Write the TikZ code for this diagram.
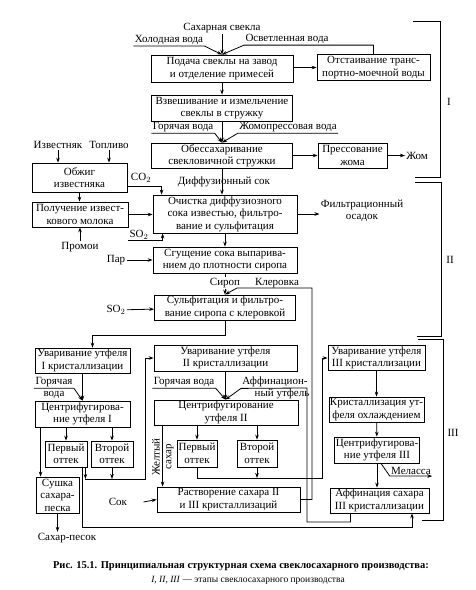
\documentclass[tikz,border=0pt]{standalone}
\usepackage{fontspec}
\setmainfont{Liberation Serif}
\usetikzlibrary{arrows.meta,positioning,calc}

\begin{document}
\begin{tikzpicture}[x=1pt,y=-1pt,
    font=\fontsize{11}{12.5}\selectfont,
    line width=0.8pt,
    >={Stealth[length=5pt,width=3.6pt]},
    blok/.style 2 args={draw, align=center, inner sep=1pt,
      minimum width=#1, minimum height=#2},
    lbl/.style={inner sep=1pt}
  ]
    \useasboundingbox (0,0) rectangle (476,590);

    % stage I
    \node[lbl] (svekla) at (222,28) {Сахарная свекла};
    \node[lbl] (xolod) at (169,40) {Холодная вода};
    \node[lbl] (osvet) at (287,39) {Осветленная вода};
    \node[blok={142}{27}] (podacha) at (222,68.5) {Подача свеклы на завод\\и отделение примесей};
    \node[blok={113}{26}] (otstoi) at (373.5,67.5) {Отстаивание транс-\\портно-моечной воды};
    \node[blok={141}{26}] (vzvesh) at (222,108) {Взвешивание и измельчение\\свеклы в стружку};
    \node[lbl] (gorv) at (183,127) {Горячая вода};
    \node[lbl] (zhomv) at (288,127) {Жомопрессовая вода};
    \node[blok={141}{25}] (obessah) at (222,155.5) {Обессахаривание\\свекловичной стружки};
    \node[blok={69}{25}] (pressov) at (352.5,155.5) {Прессование\\жома};
    \node[lbl, anchor=west] (zhom) at (405,155.5) {Жом};

    \draw[->] (svekla.south) -- (podacha.north);
    \draw[->] (xolod.south west) -- (xolod.south east) -- (podacha.north);
    \draw[->] (otstoi.north) |- (osvet.south east) -- (osvet.south west) -- (podacha.north);
    \draw[->] (podacha.east |- otstoi.west) -- (otstoi.west);
    \draw[->] (podacha) -- (vzvesh);
    \draw[->] (vzvesh) -- (obessah);
    \draw[->] (gorv.south west) -- (gorv.south east) -- (obessah.north);
    \draw[->] (zhomv.south east) -- (zhomv.south west) -- (obessah.north);
    \draw[->] (obessah) -- (pressov);
    \draw[->] (pressov) -- (zhom);

    % stage II
    \node[lbl] (izv) at (58,145) {Известняк};
    \node[lbl] (topl) at (109,145) {Топливо};
    \node[blok={95}{29}] (obzhig) at (79.5,177.5) {Обжиг\\известняка};
    \node[blok={96}{25}] (poluch) at (80,214.5) {Получение извест-\\кового молока};
    \node[lbl] (promoi) at (80,247) {Промои};
    \node[blok={144}{38}] (ochist) at (225,214) {Очистка диффузиозного\\сока известью, фильтро-\\вание и сульфитация};
    \node[lbl] (co2) at (141,178) {CO$_2$};
    \node[lbl] (diffsok) at (224,182) {Диффузионный сок};
    \node[lbl] (so2a) at (139,235) {SO$_2$};
    \node[lbl, align=center] (filtr) at (362,211) {Фильтрационный\\осадок};
    \node[lbl] (par) at (116,260) {Пар};
    \node[blok={144}{26}] (sgush) at (225,260) {Сгущение сока выпарива-\\нием до плотности сиропа};
    \node[lbl] (sirop) at (225,283) {Сироп};
    \node[lbl] (klerov) at (277,283) {Клеровка};
    \node[lbl] (so2b) at (116,310) {SO$_2$};
    \node[blok={141}{25}] (sulfit) at (225,307.5) {Сульфитация и фильтро-\\вание сиропа с клеровкой};

    \draw[->] (izv.south) -- (izv.south |- obzhig.north);
    \draw[->] (topl.south) -- (topl.south |- obzhig.north);
    \draw[->] ([yshift=-9pt]obzhig.east) -| ([xshift=9pt]ochist.north west);
    \draw[->] (obzhig.south) -- (obzhig.south |- poluch.north);
    \draw[->] (promoi) -- (poluch);
    \draw[->] (poluch.east) -- (poluch.east -| ochist.west);
    \draw[->] (so2a.south west) -| ([xshift=10pt]ochist.south west);
    \draw[->] (obessah.south) -- (obessah.south |- ochist.north);
    \draw[->] (ochist.east) -- (ochist.east -| filtr.west);
    \draw[->] (ochist) -- (sgush);
    \draw[->] (par) -- (sgush);
    \draw (sgush.south) -- (sirop.north);
    \draw[->] (sirop.south) -- (sulfit.north);
    \draw[->] (so2b) -- (sulfit);

    % stage III, first crystallisation
    \node[blok={95}{25}] (uvar1) at (82.5,360.5) {Уваривание утфеля\\I кристаллизации};
    \node[lbl] (gor1) at (54,382) {Горячая};
    \node[lbl] (voda1) at (54,395) {вода};
    \node[blok={95}{26}] (centr1) at (82.5,414) {Центрифугирова-\\ние утфеля I};
    \node[blok={42}{26}] (perv1) at (66,454) {Первый\\оттек};
    \node[blok={42}{26}] (vtor1) at (112,454) {Второй\\оттек};
    \node[blok={43}{36}] (sushka) at (57.5,495) {Сушка\\сахара-\\песка};
    \node[lbl] (pesok) at (67,538) {Сахар-песок};

    % second crystallisation
    \node[blok={143}{26}] (uvar2) at (225.5,358) {Уваривание утфеля\\II кристаллизации};
    \node[lbl] (gor2) at (184,382) {Горячая вода};
    \node[lbl] (aff1) at (275,382) {Аффинацион-};
    \node[lbl] (aff2) at (282,394) {ный утфель};
    \node[blok={144}{25}] (centr2) at (226,412.5) {Центрифугирование\\утфеля II};
    \node[blok={40}{27}] (perv2) at (197,453.5) {Первый\\оттек};
    \node[blok={40}{27}] (vtor2) at (257,453.5) {Второй\\оттек};
    \node[lbl, rotate=90] (zhelt) at (156,457) {Желтый};
    \node[lbl, rotate=90] (sahar) at (170,457) {сахар};
    \node[blok={143}{25}] (rastv) at (228.5,499.5) {Растворение сахара II\\и III кристаллизаций};
    \node[lbl] (sok) at (118,502) {Сок};

    % third crystallisation
    \node[blok={97}{24}] (uvar3) at (376.5,358) {Уваривание утфеля\\III кристаллизации};
    \node[blok={95}{25}] (krist) at (376.5,409.5) {Кристаллизация ут-\\феля охлаждением};
    \node[blok={82}{26}] (centr3) at (377,450) {Центрифугирова-\\ние утфеля III};
    \node[blok={99}{25}] (affin3) at (379.5,500.5) {Аффинация сахара\\III кристаллизации};
    \node[lbl] (melassa) at (411,471) {Меласса};

    % bends of the long connectors
    \coordinate (klr) at (312,288);
    \coordinate (klr2) at (237,288);
    \coordinate (o1) at (145,479);
    \coordinate (o2) at (322,478);
    \coordinate (ab) at (412,527);
    \coordinate (ub) at (307,522);
    \coordinate (ua) at (307,388);
    \coordinate (p1a) at ($(perv1.south east)+(-2,0)$);
    \coordinate (p1b) at ($(perv1.south east)+(-5,0)$);
    \coordinate (sk) at ($(sushka.north west)+(5,0)$);
    \coordinate (js) at ($(centr2.south west)+(9,0)$);
    \coordinate (af3) at ($(affin3.south)+(-29,0)$);

    \draw[->] (rastv.east) -| (klr) -- (klr2) -- (sulfit.north);
    \draw[->] (sulfit.south) -- ++(0,15) -| ([xshift=10pt]uvar1.north);
    \draw[->] (uvar1) -- (centr1);
    \draw[->] (gor1.south west) -- (gor1.south east) -- (centr1.north);
    \draw[->] (perv1.north |- centr1.south) -- (perv1.north);
    \draw[->] (vtor1.north |- centr1.south) -- (vtor1.north);
    \draw[->] (sk |- centr1.south) -- (sk);
    \draw[->] (sushka.south) -- (sushka.south |- pesok.north);
    \draw[->] (p1a) -- (p1a |- o1);
    \draw[->] (vtor1.south) -- (vtor1.south |- o1);
    \draw[->] (p1a |- o1) -- (o1) |- (uvar2.west);
    \draw[->] (p1b) |- (ab) -- (ab |- affin3.south);

    \draw[->] (uvar2.south) -- (uvar2.south |- centr2.north);
    \draw[->] (gor2.south west) -- (gor2.south east) -- (uvar2.south |- centr2.north);
    \draw[->] (af3) |- (ub) -- (ua) -- (aff1.south west) -- (uvar2.south |- centr2.north);
    \draw[->] (perv2.north |- centr2.south) -- (perv2.north);
    \draw[->] (vtor2.north |- centr2.south) -- (vtor2.north);
    \draw[->] (js) -- (js |- rastv.north);
    \draw[->] ($(sok.east)+(15,0)$) -- (rastv.west);
    \draw[->] (perv2.south) |- (o2) |- (uvar3.west);
    \draw[->] (vtor2.south) -- (vtor2.south |- o2);

    \draw[->] (uvar3) -- (krist);
    \draw[->] (krist) -- (centr3);
    \draw[->] (centr3.south) -- (centr3.south |- affin3.north);
    \draw[->] ($(centr3.south)+(4,0)$) -- (melassa.south west) -- (melassa.south east);

    % stage brackets
    \draw (413,21) -- (440,21) -- (440,177) -- (415,177);
    \node[lbl] (st1) at (449,102) {I};
    \draw (415,182) -- (441,182) -- (441,336) -- (417,336);
    \node[lbl] (st2) at (450,260) {II};
    \draw (418,339) -- (443,339) -- (443,520) -- (422,520);
    \node[lbl] (st3) at (453,433) {III};

    % caption
    \node[font=\bfseries\fontsize{10.5}{12}\selectfont] (cap) at (241,566)
      {Рис. 15.1. Принципиальная структурная схема свеклосахарного производства:};
    \node[font=\fontsize{9.5}{11}\selectfont] (cap2) at (248,580)
      {\textit{I, II, III} — этапы свеклосахарного производства};
  \end{tikzpicture}
\end{document}
